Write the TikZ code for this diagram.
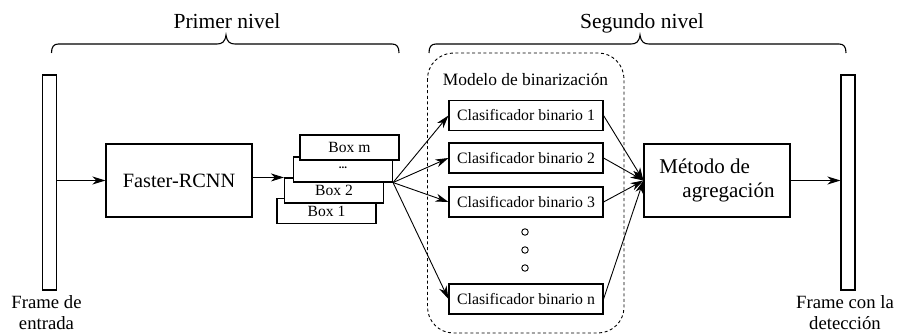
\documentclass[tikz,border=0pt]{standalone}
\usepackage{fontspec}
\setmainfont{Liberation Serif}
\usetikzlibrary{arrows.meta}

\tikzset{
  box/.style={draw, line width=1.1pt, fill=white, inner sep=0pt, align=center},
  bar/.style={draw, line width=1.1pt, inner sep=0pt, minimum width=14pt, minimum height=215pt},
  stackbox/.style={box, minimum width=99pt, minimum height=25pt, font=\fontsize{15.6}{18}\selectfont},
  clasbox/.style={box, minimum width=154pt, minimum height=30pt, font=\fontsize{15.8}{18}\selectfont},
  flow/.style={line width=0.9pt, -{Stealth[length=13pt, width=8pt, inset=4pt]}},
  caption/.style={inner sep=0pt, align=center, font=\fontsize{18.7}{21.5}\selectfont},
  title/.style={inner sep=0pt, anchor=base, font=\fontsize{21.5}{24}\selectfont},
  dotmark/.style={circle, draw, line width=0.9pt, inner sep=0pt, minimum size=6.5pt},
}

% curly brace over a group: left end, tip and right end (x values)
\newcommand\levelbrace[3]{%
  \draw[line width=1.1pt]
    (#1,53) .. controls (#1,47) and (#1+2,44) .. (#1+7,44)
    -- (#2-9,44) .. controls (#2-4,44) and (#2-1,42) .. (#2,35)
    .. controls (#2+1,42) and (#2+4,44) .. (#2+9,44)
    -- (#3-7,44) .. controls (#3-2,44) and (#3,47) .. (#3,53);}

\begin{document}
\begin{tikzpicture}[x=1pt, y=-1pt]
\useasboundingbox (0,0) rectangle (897,334);

% level titles and braces
\node[title] (t1) at (227,29) {Primer nivel};
\node[title] (t2) at (642,29) {Segundo nivel};
\levelbrace{51.5}{226}{399}
\levelbrace{429}{640}{846}

% input and output frames
\node[bar] (inframe) at (49.7,182.5) {};
\node[bar] (outframe) at (848,182.5) {};
\node[caption, anchor=north] (incap) at (46.5,295) {Frame de\\entrada};
\node[caption, anchor=north] (outcap) at (845,295) {Frame con la\\detección};

% detector
\node[box, minimum width=146pt, minimum height=73pt, font=\fontsize{20.3}{24}\selectfont]
  (frcnn) at (179,180.5) {Faster-RCNN};

% stack of detected boxes, bottom one first
\node[stackbox] (b1) at (326.5,211) {Box 1};
\node[stackbox] (b2) at (334,190.5) {Box 2};
\node[stackbox] (bd) at (343,169.5) {};
\node[inner sep=0pt, font=\fontsize{11}{12}\selectfont\bfseries] (bdots) at (343,167.5) {...};
\node[stackbox] (bm) at (349.5,147.5) {Box m};

% binarization model
\draw[line width=0.9pt, dash pattern=on 3pt off 2.6pt, rounded corners=26pt]
  (427.5,53) rectangle (624,333);
\node[inner sep=0pt, anchor=base, font=\fontsize{17.4}{20}\selectfont]
  (modelo) at (525.5,85.5) {Modelo de binarización};
\node[clasbox] (c1) at (526,115.5) {Clasificador binario 1};
\node[clasbox] (c2) at (526,158) {Clasificador binario 2};
\node[clasbox] (c3) at (526,202) {Clasificador binario 3};
\node[clasbox] (cn) at (526,299) {Clasificador binario n};
\node[dotmark] (d1) at (525,232) {};
\node[dotmark] (d2) at (525,250) {};
\node[dotmark] (d3) at (525,268) {};

% aggregation
\node[box, minimum width=146pt, minimum height=73pt, align=left, font=\fontsize{21}{24}\selectfont]
  (agreg) at (717,180.5) {Método de\\\hspace*{23pt}agregación};

% connectors
\draw[flow] (inframe.east |- frcnn.west) -- (frcnn.west);
\draw[flow] (frcnn.east |- b2.north west) -- (b2.north west);
\foreach \c in {c1,c2,c3,cn} {
  \draw[flow] (bd.south east) -- (\c.west);
  \draw[flow] (\c.east) -- (agreg.west);
}
\draw[flow] (agreg.east) -- (agreg.east -| outframe.west);
\end{tikzpicture}
\end{document}
